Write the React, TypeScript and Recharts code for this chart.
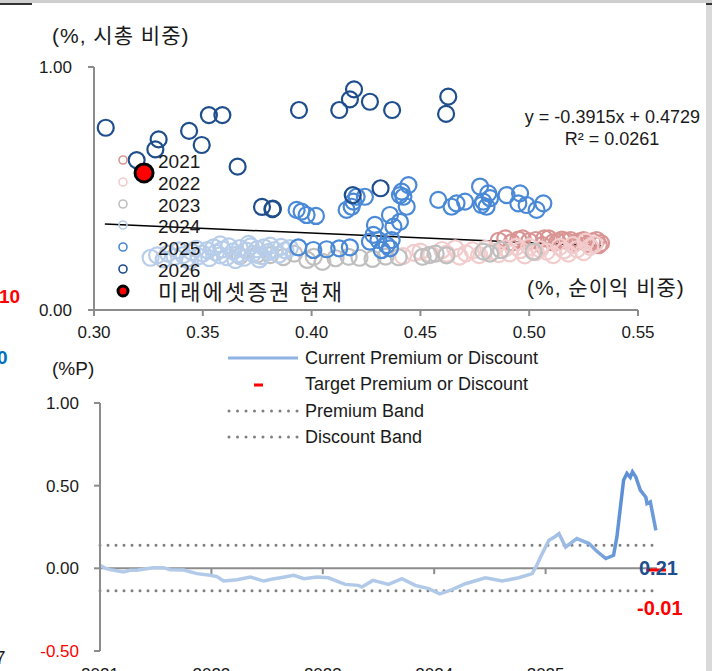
import React from 'react';
import {
  ScatterChart, Scatter, XAxis, YAxis, ReferenceLine,
  ComposedChart, Line,
} from 'recharts';

// 산점도: [순이익 비중, 시총 비중]
const PTS_2021: [number, number][] = [
  [0.486, 0.285], [0.489, 0.295], [0.492, 0.278], [0.495, 0.29], [0.497, 0.295], [0.5, 0.283],
  [0.503, 0.288], [0.506, 0.267], [0.507, 0.295], [0.509, 0.295], [0.511, 0.278], [0.513, 0.281],
  [0.515, 0.29], [0.517, 0.285], [0.519, 0.288], [0.521, 0.276], [0.523, 0.283], [0.525, 0.288],
  [0.527, 0.272], [0.529, 0.283], [0.531, 0.288], [0.532, 0.267], [0.533, 0.275],
];
const PTS_2022: [number, number][] = [
  [0.442, 0.222], [0.447, 0.235], [0.45, 0.24], [0.455, 0.228], [0.46, 0.247], [0.462, 0.232],
  [0.466, 0.254], [0.468, 0.22], [0.471, 0.233], [0.474, 0.245], [0.477, 0.226], [0.48, 0.252],
  [0.483, 0.24], [0.486, 0.23], [0.489, 0.254], [0.491, 0.233], [0.494, 0.26], [0.496, 0.247],
  [0.498, 0.225], [0.5, 0.26], [0.503, 0.238], [0.505, 0.25], [0.508, 0.24], [0.511, 0.226],
  [0.514, 0.26], [0.516, 0.245], [0.518, 0.232], [0.52, 0.267], [0.522, 0.25], [0.525, 0.238],
  [0.526, 0.281], [0.528, 0.26], [0.53, 0.27],
];
const PTS_2023: [number, number][] = [
  [0.367, 0.222], [0.375, 0.228], [0.381, 0.226], [0.387, 0.218], [0.392, 0.232], [0.398, 0.206],
  [0.401, 0.219], [0.405, 0.198], [0.411, 0.213], [0.417, 0.219], [0.422, 0.215], [0.428, 0.21],
  [0.434, 0.22], [0.44, 0.217], [0.451, 0.219], [0.454, 0.226], [0.457, 0.232], [0.462, 0.225],
  [0.479, 0.24], [0.482, 0.232], [0.487, 0.247], [0.502, 0.24],
];
const PTS_2024: [number, number][] = [
  [0.326, 0.215], [0.329, 0.225], [0.332, 0.208], [0.334, 0.232], [0.337, 0.219], [0.339, 0.245],
  [0.341, 0.226], [0.343, 0.212], [0.345, 0.238], [0.347, 0.252], [0.348, 0.221], [0.35, 0.232],
  [0.352, 0.246], [0.353, 0.214], [0.355, 0.258], [0.356, 0.236], [0.358, 0.225], [0.359, 0.249],
  [0.361, 0.218], [0.362, 0.262], [0.364, 0.241], [0.366, 0.229], [0.367, 0.255], [0.369, 0.215],
  [0.37, 0.244], [0.372, 0.262], [0.373, 0.231], [0.375, 0.25], [0.377, 0.222], [0.378, 0.258],
  [0.38, 0.238], [0.381, 0.265], [0.383, 0.247], [0.385, 0.228], [0.386, 0.26], [0.388, 0.245],
  [0.39, 0.255], [0.365, 0.205], [0.376, 0.208], [0.344, 0.2], [0.358, 0.27], [0.371, 0.272],
];
const PTS_2025: [number, number][] = [
  [0.3931, 0.412], [0.3954, 0.405], [0.3977, 0.391], [0.402, 0.387], [0.3939, 0.258], [0.4008, 0.247],
  [0.4069, 0.25], [0.4127, 0.254], [0.4176, 0.258], [0.4161, 0.412], [0.4184, 0.425], [0.4192, 0.446],
  [0.4207, 0.466], [0.4245, 0.466], [0.4291, 0.35], [0.4284, 0.309], [0.4268, 0.281], [0.4307, 0.288],
  [0.4345, 0.267], [0.4322, 0.247], [0.436, 0.254], [0.4368, 0.288], [0.436, 0.391], [0.4406, 0.363],
  [0.4376, 0.343], [0.4414, 0.487], [0.4445, 0.514], [0.4422, 0.466], [0.4437, 0.425], [0.4406, 0.473],
  [0.4582, 0.453], [0.4643, 0.425], [0.4666, 0.439], [0.4705, 0.446], [0.4774, 0.508], [0.4789, 0.446],
  [0.4812, 0.48], [0.482, 0.46], [0.4804, 0.425], [0.4781, 0.432], [0.4896, 0.473], [0.4958, 0.48],
  [0.495, 0.439], [0.4988, 0.432], [0.5034, 0.412], [0.5065, 0.439],
];
const PTS_2026: [number, number][] = [
  [0.3054, 0.75], [0.3196, 0.617], [0.3282, 0.661], [0.3297, 0.702], [0.3437, 0.737], [0.3495, 0.679],
  [0.3528, 0.802], [0.359, 0.802], [0.366, 0.59], [0.3942, 0.823], [0.4127, 0.823], [0.4176, 0.867],
  [0.4195, 0.908], [0.4268, 0.857], [0.437, 0.823], [0.4618, 0.807], [0.4628, 0.878],
  [0.3772, 0.424], [0.382, 0.415], [0.3822, 0.417], [0.4189, 0.473], [0.4317, 0.501],
];
const PTS_NOW: [number, number][] = [[0.323, 0.564]];

const YEARS = ['2021', '2022', '2023', '2024', '2025', '2026'];
const YEAR_COLORS = ['#d99594', '#f2cccc', '#bfbfbf', '#b7cde9', '#4a89d6', '#1f4e8c'];
const YEAR_POINTS = [PTS_2021, PTS_2022, PTS_2023, PTS_2024, PTS_2025, PTS_2026];

const SLOPE = -0.3915;
const INTERCEPT = 0.4729;
const TREND_X = [0.305, 0.533];
const SCATTER_X_TICKS = [0.3, 0.35, 0.4, 0.45, 0.5, 0.55];
const SCATTER_Y_TICKS = [0, 1];

// 프리미엄/디스카운트 (연도 분수, %P)
const PREM_T = [
  2021.0, 2021.05, 2021.09, 2021.15, 2021.21, 2021.27, 2021.33, 2021.4, 2021.48, 2021.57, 2021.63,
  2021.75, 2021.87, 2021.99, 2022.05, 2022.11, 2022.23, 2022.35, 2022.47, 2022.55, 2022.62, 2022.74,
  2022.83, 2022.95, 2023.05, 2023.2, 2023.32, 2023.35, 2023.45, 2023.59, 2023.71, 2023.83, 2023.95,
  2024.05, 2024.16, 2024.28, 2024.37, 2024.46, 2024.61, 2024.76, 2024.88, 2024.92, 2024.97, 2025.03,
  2025.08, 2025.12, 2025.18, 2025.28, 2025.39, 2025.45, 2025.54, 2025.61, 2025.64, 2025.7, 2025.73,
  2025.76, 2025.78, 2025.81, 2025.85, 2025.9, 2025.91, 2025.94, 2025.99,
];
const PREM_V = [
  0.018, 0.0, -0.008, -0.015, -0.022, -0.012, -0.012, -0.004, 0.004, 0.004, -0.008,
  -0.01, -0.032, -0.042, -0.05, -0.077, -0.069, -0.053, -0.077, -0.065, -0.057, -0.042,
  -0.063, -0.053, -0.057, -0.097, -0.103, -0.113, -0.073, -0.097, -0.063, -0.103, -0.123,
  -0.154, -0.129, -0.093, -0.075, -0.057, -0.077, -0.057, -0.032, 0.018, 0.089, 0.17,
  0.19, 0.21, 0.129, 0.18, 0.15, 0.109, 0.059, 0.079, 0.19, 0.533, 0.574,
  0.55, 0.584, 0.553, 0.473, 0.43, 0.392, 0.402, 0.23,
];
const PREMIUM_BAND = 0.14;
const DISCOUNT_BAND = -0.135;
const TARGET = [{ t: 2026, v: -0.01 }];
const CURRENT_LABEL = 0.21;
const TARGET_LABEL = -0.01;
const PREM_X_TICKS = [2021, 2022, 2023, 2024, 2025];
const PREM_Y_TICKS = [-0.5, 0, 0.5, 1];

const FONT = '"Liberation Sans", Arial, "Noto Sans CJK KR", sans-serif';
const AXIS = '#8c8c8c';
const TXT = '#1a1a1a';

const toObj = (arr: [number, number][]) => arr.map(([x, y]) => ({ x, y }));
const premData = PREM_T.map((t, i) => ({ t, v: PREM_V[i] }));

const ring = (color: string) => (p: any) => (
  <circle cx={p.cx} cy={p.cy} r={8} fill="none" stroke={color} strokeWidth={2.2} />
);

const PremTick = (p: any) => {
  const v = p.payload.value;
  return (
    <text x={p.x} y={p.y} dy={6} textAnchor="end" fontSize={17} fontFamily={FONT}
      fill={v < 0 ? '#ff0000' : TXT}>{v.toFixed(2)}</text>
  );
};

const abs = (left: number, top: number, extra: React.CSSProperties = {}): React.CSSProperties => ({
  position: 'absolute', left, top, whiteSpace: 'nowrap', lineHeight: 1, ...extra,
});

export default function App() {
  return (
    <div style={{ position: 'absolute', left: 0, top: 0, width: 712, height: 671, overflow: 'hidden', background: '#fff', fontFamily: FONT, color: TXT }}>
      {/* frame bits */}
      <div style={abs(0, 0, { width: 712, height: 3, background: '#cfcfcf' })} />
      <div style={abs(0, 3, { width: 32, height: 2, background: '#333' })} />
      <div style={abs(706, 3, { width: 6, height: 668, background: '#d9d9d9' })} />
      <div style={abs(706, 3, { width: 6, height: 2, background: '#333' })} />

      <div style={abs(0, 0)}>
        <ScatterChart width={712} height={350} margin={{ top: 67, right: 74, bottom: 10, left: 34 }}>
          <XAxis type="number" dataKey="x" domain={[0.3, 0.55]} ticks={SCATTER_X_TICKS}
            tickFormatter={(v: number) => v.toFixed(2)} stroke={AXIS} strokeWidth={2} height={30}
            tickSize={6} tickMargin={10} tick={{ fill: TXT, fontSize: 17, fontFamily: FONT }} />
          <YAxis type="number" dataKey="y" domain={[0, 1]} ticks={SCATTER_Y_TICKS} width={60}
            tickFormatter={(v: number) => v.toFixed(2)} stroke={AXIS} strokeWidth={2}
            tickSize={6} tickMargin={16} tick={{ fill: TXT, fontSize: 17, fontFamily: FONT }} />
          {YEAR_POINTS.map((pts, i) => (
            <Scatter key={YEARS[i]} name={YEARS[i]} data={toObj(pts)} shape={ring(YEAR_COLORS[i])}
              isAnimationActive={false} />
          ))}
          <ReferenceLine segment={[
            { x: TREND_X[0], y: SLOPE * TREND_X[0] + INTERCEPT },
            { x: TREND_X[1], y: SLOPE * TREND_X[1] + INTERCEPT },
          ]} stroke="#000" strokeWidth={1.5} />
          <Scatter name="미래에셋증권 현재" data={toObj(PTS_NOW)} isAnimationActive={false}
            shape={(p: any) => <circle cx={p.cx} cy={p.cy} r={9} fill="#ff0000" stroke="#000" strokeWidth={3} />} />
        </ScatterChart>
      </div>

      <div style={abs(52, 25, { fontSize: 21, letterSpacing: 1 })}>(%, 시총 비중)</div>
      <div style={abs(527, 277, { fontSize: 21, letterSpacing: 1 })}>(%, 순이익 비중)</div>
      <div style={abs(500, 108, { width: 200, textAlign: 'right', fontSize: 18 })}>y = -0.3915x + 0.4729</div>
      <div style={abs(512, 130, { width: 200, textAlign: 'center', fontSize: 18 })}>R² = 0.0261</div>

      {/* scatter legend */}
      {YEARS.map((y, i) => (
        <React.Fragment key={y}>
          <svg style={abs(117, 154 + i * 21.8)} width={12} height={12}>
            <circle cx={6} cy={6} r={4} fill="none" stroke={YEAR_COLORS[i]} strokeWidth={1.6} />
          </svg>
          <div style={abs(158, 152 + i * 21.8, { fontSize: 19 })}>{y}</div>
        </React.Fragment>
      ))}
      <svg style={abs(115, 283)} width={16} height={16}>
        <circle cx={8} cy={8} r={5} fill="#ff0000" stroke="#000" strokeWidth={3} />
      </svg>
      <div style={abs(158, 282, { fontSize: 22, letterSpacing: 2 })}>미래에셋증권 현재</div>

      {/* neighbouring table fragments */}
      <div style={abs(-1, 287, { fontSize: 19, fontWeight: 'bold', color: '#ff0000' })}>10</div>
      <div style={abs(-3, 348, { fontSize: 19, fontWeight: 'bold', color: '#0070c0' })}>0</div>
      <div style={abs(-5, 648, { fontSize: 19, color: TXT })}>7</div>

      <div style={abs(0, 340)}>
        <ComposedChart width={712} height={360} margin={{ top: 63, right: 55, bottom: 19, left: 40 }}>
          <defs>
            <linearGradient id="premGrad" x1="0" y1="0" x2="1" y2="0">
              <stop offset="0" stopColor="#b3cbe9" />
              <stop offset="0.79" stopColor="#b0c8e8" />
              <stop offset="0.87" stopColor="#8fb3e3" />
              <stop offset="0.94" stopColor="#5b8fd6" />
              <stop offset="1" stopColor="#6d9bdb" />
            </linearGradient>
          </defs>
          <XAxis type="number" dataKey="t" domain={[2021, 2026]} ticks={PREM_X_TICKS} height={30}
            axisLine={false} tickLine={false} tickSize={6} tickMargin={11}
            tickFormatter={(v: number) => String(Math.round(v))}
            tick={{ fill: TXT, fontSize: 17, fontFamily: FONT }} />
          <YAxis type="number" domain={[-0.5, 1]} ticks={PREM_Y_TICKS} width={60}
            stroke={AXIS} strokeWidth={2} tickSize={6} tickMargin={15} tick={<PremTick />} />
          <ReferenceLine y={0} stroke={AXIS} strokeWidth={2} />
          {PREM_X_TICKS.slice(1).map((t) => (
            <ReferenceLine key={t} segment={[{ x: t, y: 0 }, { x: t, y: -0.035 }]} stroke={AXIS} strokeWidth={2} />
          ))}
          <ReferenceLine y={PREMIUM_BAND} stroke="#7f7f7f" strokeWidth={3} strokeDasharray="0 8" strokeLinecap="round" />
          <ReferenceLine y={DISCOUNT_BAND} stroke="#7f7f7f" strokeWidth={3} strokeDasharray="0 8" strokeLinecap="round" />
          <Line data={premData} dataKey="v" type="linear" stroke="url(#premGrad)" strokeWidth={3.5}
            dot={false} isAnimationActive={false} />
          <Scatter data={TARGET} dataKey="v" isAnimationActive={false}
            shape={(p: any) => <rect x={p.cx - 11} y={p.cy - 1.5} width={20} height={3} fill="#ff0000" />} />
        </ComposedChart>
      </div>

      <div style={abs(52, 359, { fontSize: 19 })}>(%P)</div>
      <div style={abs(639, 558, { fontSize: 20, fontWeight: 'bold', color: '#1f4e8c' })}>{CURRENT_LABEL.toFixed(2)}</div>
      <div style={abs(637, 598, { fontSize: 20, fontWeight: 'bold', color: '#ff0000' })}>{TARGET_LABEL.toFixed(2)}</div>

      {/* premium legend */}
      <svg style={abs(226, 348)} width={76} height={100}>
        <line x1={2} x2={72} y1={10} y2={10} stroke="#8fb4e3" strokeWidth={3} />
        <rect x={28} y={35.5} width={9} height={3} fill="#ff0000" />
        <line x1={3} x2={72} y1={63} y2={63} stroke="#7f7f7f" strokeWidth={3} strokeDasharray="0 8.5" strokeLinecap="round" />
        <line x1={3} x2={72} y1={89} y2={89} stroke="#7f7f7f" strokeWidth={3} strokeDasharray="0 8.5" strokeLinecap="round" />
      </svg>
      {['Current Premium or Discount', 'Target Premium or Discount', 'Premium Band', 'Discount Band'].map((s, i) => (
        <div key={s} style={abs(305, 349 + i * 26.3, { fontSize: 18 })}>{s}</div>
      ))}
    </div>
  );
}
